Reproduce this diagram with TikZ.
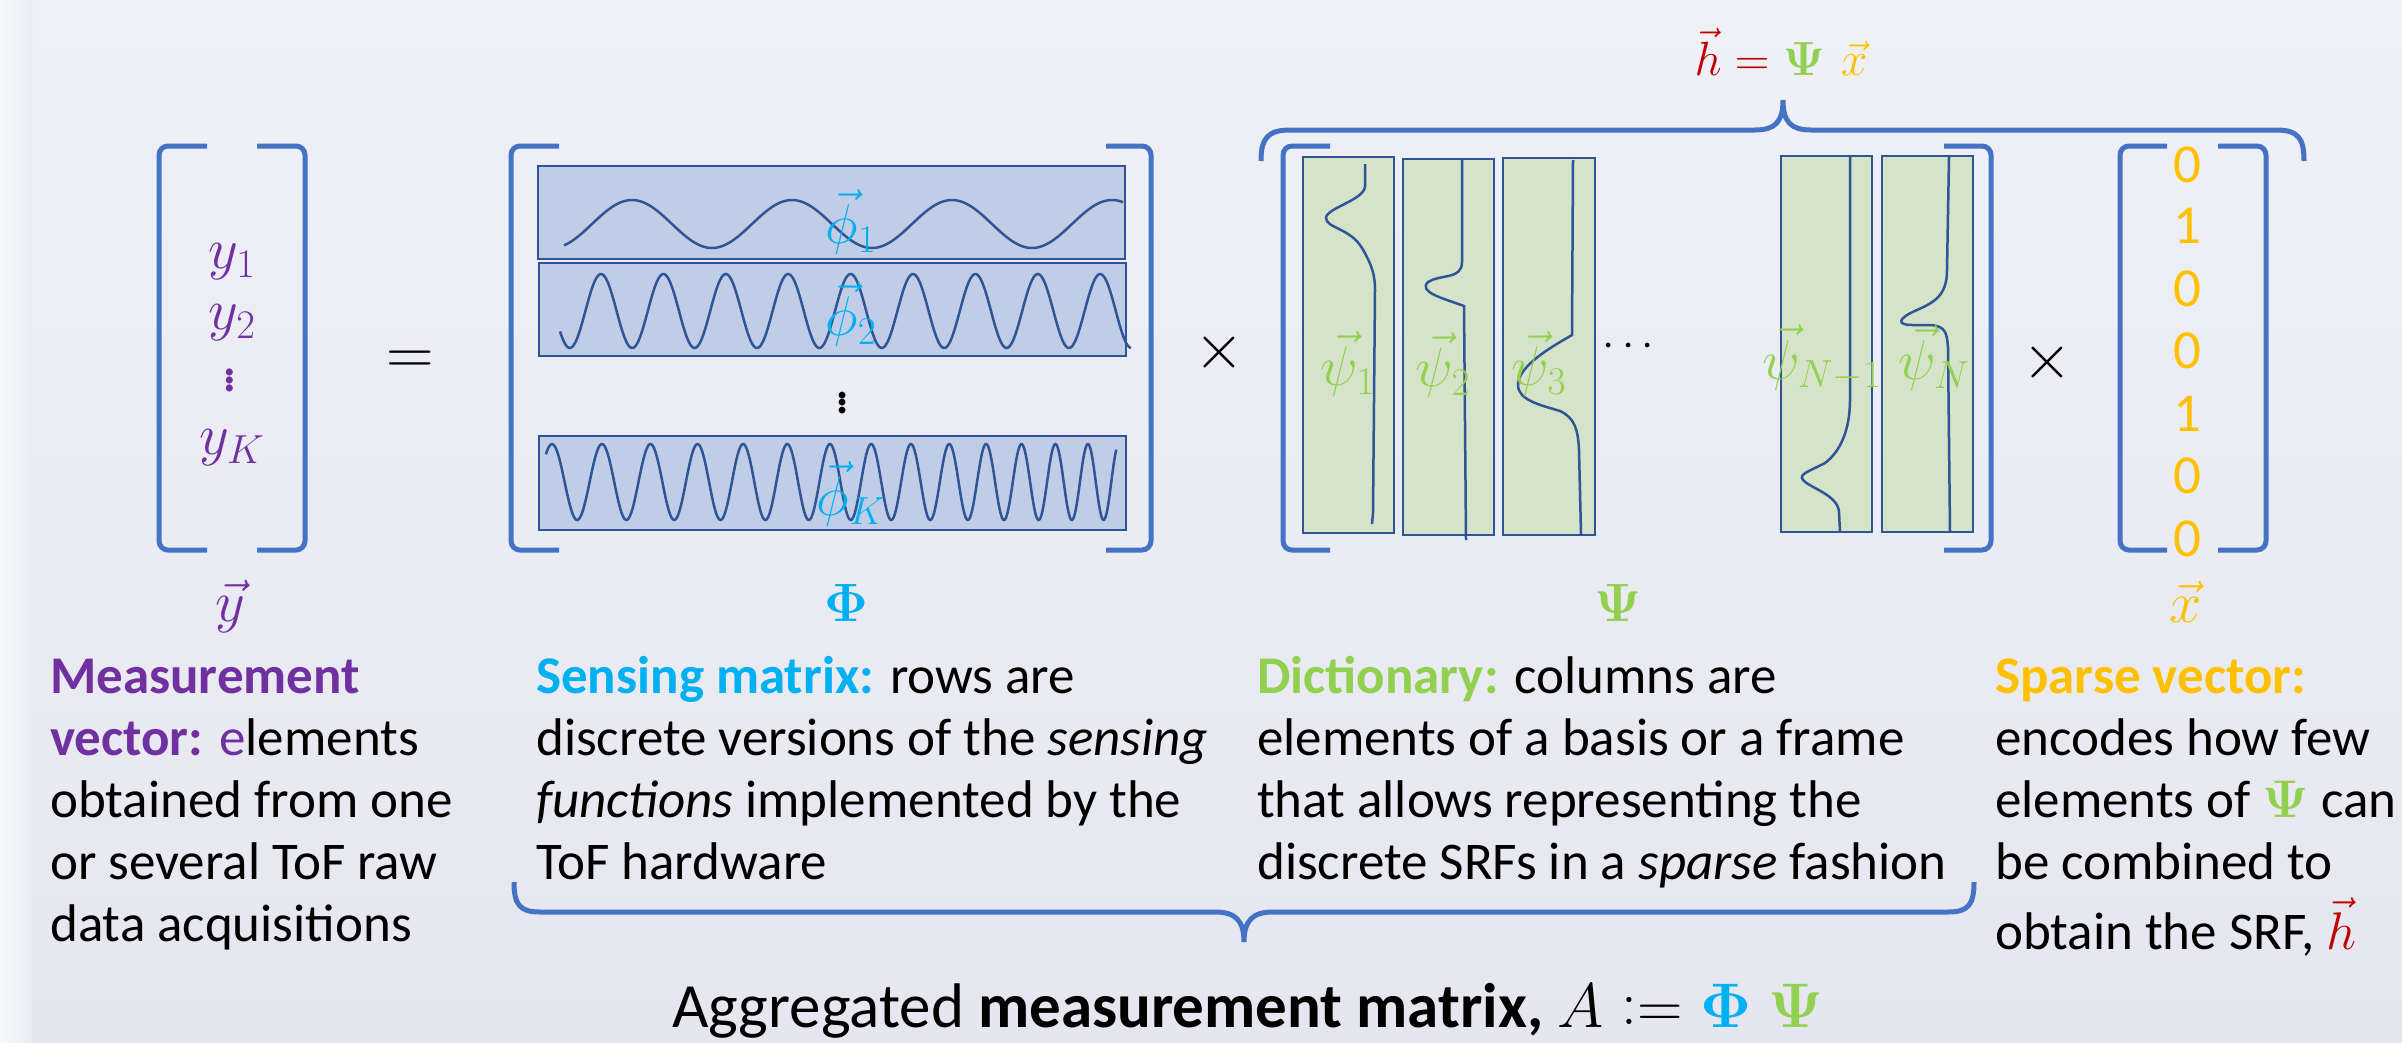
\RequirePackage{fix-cm}
\documentclass[tikz,border=0pt]{standalone}
\usepackage{amsmath}
\usepackage[no-math]{fontspec}
\setmainfont{Carlito}
\definecolor{brk}{HTML}{4472C4}
\definecolor{dblue}{HTML}{2F5597}
\definecolor{phifill}{RGB}{193,205,230}
\definecolor{psifill}{RGB}{213,227,201}
\definecolor{cpurple}{HTML}{7030A0}
\definecolor{ccyan}{HTML}{00B0F0}
\definecolor{cgreen}{HTML}{92D050}
\definecolor{corange}{HTML}{FFC000}
\definecolor{cred}{HTML}{C00000}
\definecolor{bgtop}{RGB}{240,241,247}
\definecolor{bgbot}{RGB}{229,230,239}
\definecolor{bgstrip}{RGB}{246,247,250}
\newcommand\setfs[2]{\fontsize{#1}{#2}\selectfont}
\tikzset{
  brk/.style={draw=brk, line width=5pt, rounded corners=9pt},
  brace/.style={draw=brk, line width=5pt},
  phirow/.style={draw=dblue, fill=phifill, line width=2.5pt, rectangle, inner sep=0},
  psicol/.style={draw=dblue, fill=psifill, line width=2.5pt, rectangle, inner sep=0},
  wave/.style={draw=dblue, line width=2.5pt},
  txt/.style={anchor=base west, inner sep=0, font=\setfs{53}{64}},
  mth/.style={inner sep=0, font=\setfs{56}{64}},
  lab/.style={inner sep=0, font=\setfs{58}{66}},
}
\begin{document}
\begin{tikzpicture}[x=1pt,y=-1pt]
\useasboundingbox (0,0) rectangle (2402,1042);
% background
\fill[top color=bgtop, bottom color=bgbot] (0,0) rectangle (2402,1042);
\fill[left color=bgstrip, right color=bgtop!70!bgbot] (0,0) rectangle (32,1042);

% ---------- y vector ----------
\draw[brk] (207,146) -- (159,146) -- (159,550) -- (207,550);
\draw[brk] (257,146) -- (305,146) -- (305,550) -- (257,550);
\node[lab, text=cpurple] (y1) at (232,262) {$y_1$};
\node[lab, text=cpurple] (y2) at (232,323) {$y_2$};
\node[lab, text=cpurple] (yd) at (230,377) {$\vdots$};
\node[lab, text=cpurple] (yk) at (232,448) {$y_K$};
\node[lab, text=cpurple] (ylab) at (230,606) {$\vec{y}$};

% equals
\node[inner sep=0, font=\setfs{66}{70}] (eq) at (410,363) {$=$};

% ---------- Phi matrix ----------
\draw[brk] (559,146) -- (511,146) -- (511,550) -- (559,550);
\draw[brk] (1106,146) -- (1151,146) -- (1151,550) -- (1106,550);
\node[phirow, minimum width=587pt, minimum height=93pt] (r1) at (831.5,212.5) {};
\node[phirow, minimum width=587pt, minimum height=93pt] (r2) at (832.5,309.5) {};
\node[phirow, minimum width=587pt, minimum height=94pt] (rk) at (832.5,483) {};
\draw[wave] plot[domain=564:1123, samples=300] (\x, {224-24*cos((\x-632)/160*360)});
\draw[wave] plot[domain=560:1131, samples=400] (\x, {311-37*cos((\x-601)/62.4*360)});
\draw[wave] plot[domain=-0.12:13.92, samples=500, variable=\t] ({552+50.7*\t-0.729*\t*\t}, {482-38*cos(360*\t)});
\node[mth, text=ccyan] (p1) at (851,222) {$\vec{\phi}_1$};
\node[mth, text=ccyan] (p2) at (851,314) {$\vec{\phi}_2$};
\node[mth, text=ccyan] (pk) at (851,494) {$\vec{\phi}_K$};
\node[mth] (pd) at (843,400) {$\vdots$};
\node[inner sep=0, font=\setfs{54}{60}, text=ccyan] (philab) at (846,603) {$\mathbf{\Phi}$};

% times
\node[inner sep=0, font=\setfs{64}{70}] (t1) at (1219,352) {$\times$};

% ---------- Psi matrix ----------
\draw[brk] (1330,146) -- (1283,146) -- (1283,550) -- (1330,550);
\draw[brk] (1944,146) -- (1991,146) -- (1991,550) -- (1944,550);
\node[psicol, minimum width=91pt, minimum height=376pt] (c1) at (1348.5,345) {};
\node[psicol, minimum width=91pt, minimum height=376pt] (c2) at (1448.5,347) {};
\node[psicol, minimum width=92pt, minimum height=377pt] (c3) at (1549,346.5) {};
\node[psicol, minimum width=91pt, minimum height=376pt] (cn1) at (1826.5,344) {};
\node[psicol, minimum width=91pt, minimum height=376pt] (cn) at (1927.5,344) {};
% curves
\draw[wave] (1365,164) -- (1365,186) .. controls (1365,200) and (1326,208) .. (1326,218)
  .. controls (1326,228) and (1350,228) .. (1362,248) .. controls (1372,265) and (1375,275) .. (1375,290) -- (1373,513) -- (1372,524);
\draw[wave] (1462,160) -- (1462,262) .. controls (1462,280) and (1440,274) .. (1428,282)
  .. controls (1418,292) and (1442,298) .. (1464,306) -- (1466,540);
\draw[wave] (1573,160) -- (1572,335) .. controls (1555,345) and (1518,365) .. (1518,385)
  .. controls (1518,400) and (1540,405) .. (1560,411) .. controls (1575,418) and (1578,430) .. (1579,450) -- (1581,534);
\draw[wave] (1850,157) -- (1850,400) .. controls (1850,430) and (1840,452) .. (1825,463)
  .. controls (1810,471) and (1798,474) .. (1803,480) .. controls (1810,488) and (1838,495) .. (1839,512) -- (1840,532);
\draw[wave] (1949,157) -- (1947,270) .. controls (1947,295) and (1935,302) .. (1917,310)
  .. controls (1898,318) and (1896,325) .. (1912,325) -- (1930,325) .. controls (1945,326) and (1947,332) .. (1948,348) -- (1950,532);
\node[mth, text=cgreen] (s1) at (1348,364) {$\vec{\psi}_1$};
\node[mth, text=cgreen] (s2) at (1443,365) {$\vec{\psi}_2$};
\node[mth, text=cgreen] (s3) at (1539,364) {$\vec{\psi}_3$};
\node[mth, text=cgreen] (sn1) at (1822,358) {$\vec{\psi}_{N-1}$};
\node[mth, text=cgreen] (sn) at (1934,358) {$\vec{\psi}_N$};
\node[inner sep=0, font=\setfs{44}{50}] (cd) at (1632,347) {$\cdots$};
\node[inner sep=0, font=\setfs{54}{60}, text=cgreen] (psilab) at (1618,603) {$\mathbf{\Psi}$};

% times
\node[inner sep=0, font=\setfs{64}{70}] (t2) at (2047,362) {$\times$};

% ---------- x vector ----------
\draw[brk] (2167,146) -- (2120,146) -- (2120,550) -- (2167,550);
\draw[brk] (2218,146) -- (2266,146) -- (2266,550) -- (2218,550);
\foreach \v/\yy/\nm in {0/165/x1,1/226/x2,0/289/x3,0/351/x4,1/414/x5,0/476/x6,0/539/x7}
  \node[inner sep=0, text=corange, font=\setfs{55}{60}] (\nm) at (2187,\yy) {\v};
\node[lab, text=corange] (xlab) at (2186,602) {$\vec{x}$};

% ---------- top brace ----------
\draw[brace] (1261,161) .. controls (1261,138) and (1268,130) .. (1290,130) -- (1755,130)
  .. controls (1775,130) and (1783,122) .. (1783,100) .. controls (1783,122) and (1791,130) .. (1811,130)
  -- (2276,130) .. controls (2298,130) and (2304,138) .. (2304,161);
\node[anchor=base, inner sep=0, font=\setfs{48}{56}] (hlab) at (1781,75)
  {$\color{cred}\vec{h} = \color{cgreen}\mathbf{\Psi}\,\,\color{corange}\vec{x}$};

% ---------- bottom brace ----------
\draw[brace] (514,882) .. controls (514,905) and (520,912) .. (540,912) -- (1215,912)
  .. controls (1235,912) and (1244,920) .. (1244,942) .. controls (1244,920) and (1253,912) .. (1273,912)
  -- (1948,912) .. controls (1968,912) and (1974,905) .. (1974,882);
\node[anchor=base, inner sep=0, font=\setfs{63}{72}] (agg) at (1248,1027)
  {Aggregated \textbf{measurement matrix,} $A \mathrel{\mathop:}= {\color{ccyan}\mathbf{\Phi}}\;{\color{cgreen}\mathbf{\Psi}}$};

% ---------- text blocks ----------
\node[txt] (m1) at (50,693) {\textcolor{cpurple}{\textbf{Measurement}}};
\node[txt] (m2) at (50,755) {\textcolor{cpurple}{\textbf{vector:} e}lements};
\node[txt] (m3) at (50,817) {obtained from one};
\node[txt] (m4) at (50,879) {or several ToF raw};
\node[txt] (m5) at (50,941) {data acquisitions};

\node[txt] (q1) at (536,693) {\textcolor{ccyan}{\textbf{Sensing matrix:}} rows are};
\node[txt] (q2) at (536,755) {discrete versions of the \textit{sensing}};
\node[txt] (q3) at (536,817) {\textit{functions} implemented by the};
\node[txt] (q4) at (536,879) {ToF hardware};

\node[txt] (d1) at (1257,693) {\textcolor{cgreen}{\textbf{Dictionary:}} columns are};
\node[txt] (d2) at (1257,755) {elements of a basis or a frame};
\node[txt] (d3) at (1257,817) {that allows representing the};
\node[txt] (d4) at (1257,879) {discrete SRFs in a \textit{sparse} fashion};

\node[txt] (v1) at (1995,693) {\textcolor{corange}{\textbf{Sparse vector:}}};
\node[txt] (v2) at (1995,755) {encodes how few};
\node[txt] (v3) at (1995,817) {elements of $\color{cgreen}\mathbf{\Psi}$ can};
\node[txt] (v4) at (1995,879) {be combined to};
\node[txt] (v5) at (1995,949) {obtain the SRF, $\color{cred}\vec{h}$};
\end{tikzpicture}
\end{document}
